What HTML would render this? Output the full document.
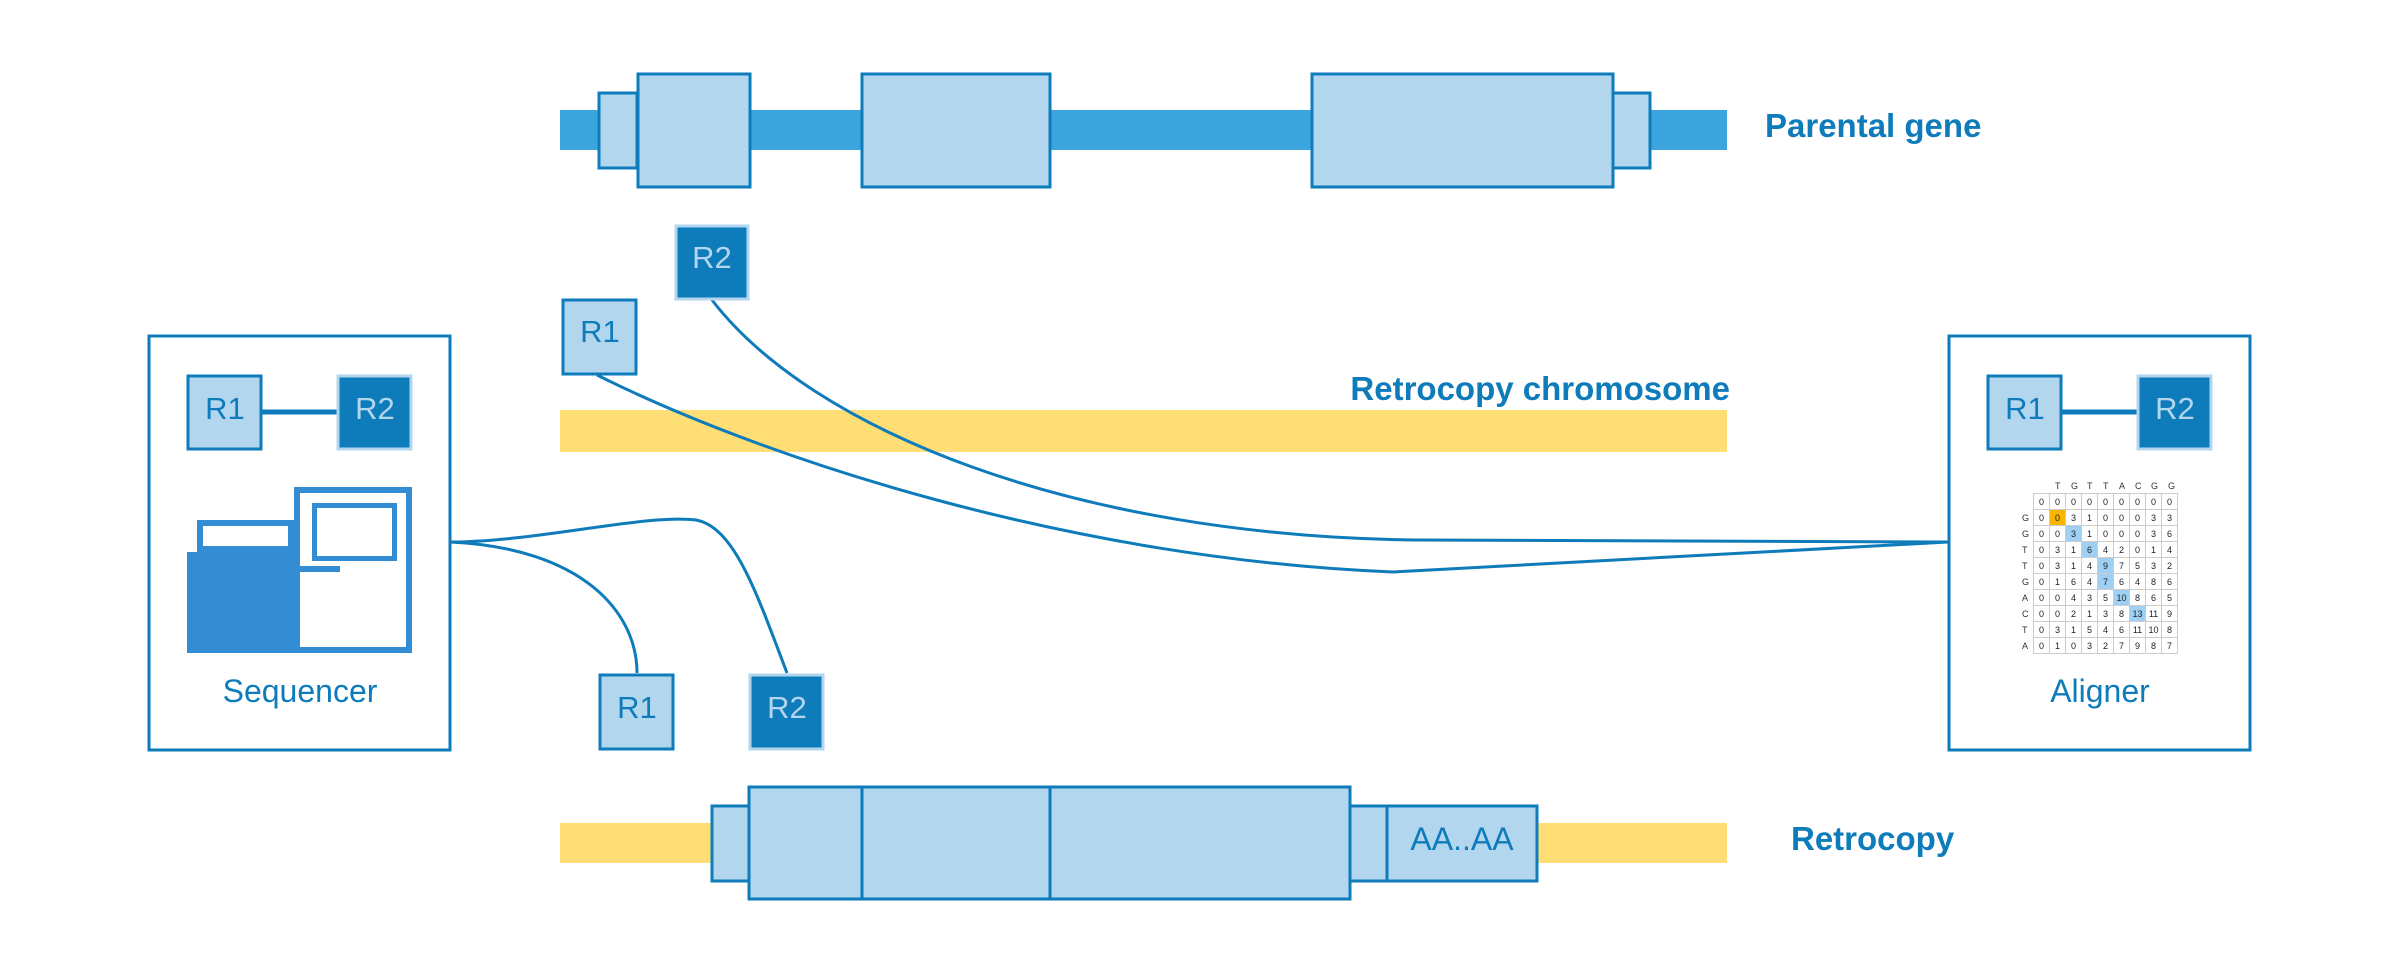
<!DOCTYPE html>
<html><head><meta charset="utf-8"><style>
html,body{margin:0;padding:0;background:#fff;}
body{width:2400px;height:975px;position:relative;overflow:hidden;font-family:"Liberation Sans",sans-serif;}
table.m{position:absolute;left:2033px;top:493px;border-collapse:collapse;font-size:9px;color:#222;table-layout:fixed;width:145px;height:161px;}
table.m td{border:1.5px solid #ccc;text-align:center;padding:0;line-height:14px;background:#fff;}
table.m td.o{background:#f7b500;}
table.m td.b{background:#9fd0f3;}
.rl{position:absolute;left:2022px;font-size:9px;color:#333;}
.hl{position:absolute;top:481px;font-size:9px;color:#333;}
</style></head><body>
<svg width="2400" height="975" style="position:absolute;left:0;top:0">
<g font-family="Liberation Sans, sans-serif">
<rect x="560" y="110" width="1167" height="40" fill="#3ca5dd"/>
<rect x="599" y="93" width="38" height="75" fill="#b3d6ef" stroke="#0e7bbb" stroke-width="3"/>
<rect x="638" y="74" width="112" height="113" fill="#b3d6ef" stroke="#0e7bbb" stroke-width="3"/>
<rect x="862" y="74" width="188" height="113" fill="#b3d6ef" stroke="#0e7bbb" stroke-width="3"/>
<rect x="1312" y="74" width="301" height="113" fill="#b3d6ef" stroke="#0e7bbb" stroke-width="3"/>
<rect x="1613" y="93" width="37" height="75" fill="#b3d6ef" stroke="#0e7bbb" stroke-width="3"/>
<text x="1765" y="137" font-size="33" font-weight="bold" fill="#0e7bbb">Parental gene</text>

<rect x="560" y="410" width="1167" height="42" fill="#ffde75"/>
<text x="1730" y="400" font-size="33" font-weight="bold" fill="#0e7bbb" text-anchor="end">Retrocopy chromosome</text>

<rect x="560" y="823" width="1167" height="40" fill="#ffde75"/>
<rect x="712" y="806" width="37" height="75" fill="#b3d6ef" stroke="#0e7bbb" stroke-width="3"/>
<rect x="749" y="787" width="601" height="112" fill="#b3d6ef" stroke="#0e7bbb" stroke-width="3"/>
<line x1="862" y1="787" x2="862" y2="899" stroke="#0e7bbb" stroke-width="3"/>
<line x1="1050" y1="787" x2="1050" y2="899" stroke="#0e7bbb" stroke-width="3"/>
<rect x="1350" y="806" width="37" height="75" fill="#b3d6ef" stroke="#0e7bbb" stroke-width="3"/>
<rect x="1387" y="806" width="150" height="75" fill="#b3d6ef" stroke="#0e7bbb" stroke-width="3"/>
<text x="1462" y="850" font-size="32" fill="#0e7bbb" text-anchor="middle">AA..AA</text>
<text x="1791" y="850" font-size="33" font-weight="bold" fill="#0e7bbb">Retrocopy</text>

<g fill="none" stroke="#0e7bbb" stroke-width="3">
<path d="M450,542 C582,548 637,612 637,673"/>
<path d="M450,542 C536,542 643,514 696,520 C735,527 758,597 787,673"/>
<path d="M1948,542 L1393,572 C1071,559 765,459 597,375"/>
<path d="M1948,542 L1416,540 C1071,536 811,429 712,300"/>
</g>

<rect x="676" y="226" width="72" height="73" fill="#0e7bbb" stroke="#b3d6ef" stroke-width="3"/>
<text x="712" y="268" font-size="31" fill="#b3d6ef" text-anchor="middle">R2</text>
<rect x="563" y="300" width="73" height="74" fill="#b3d6ef" stroke="#0e7bbb" stroke-width="3"/>
<text x="600" y="342" font-size="31" fill="#0e7bbb" text-anchor="middle">R1</text>
<rect x="600" y="675" width="73" height="74" fill="#b3d6ef" stroke="#0e7bbb" stroke-width="3"/>
<text x="637" y="718" font-size="31" fill="#0e7bbb" text-anchor="middle">R1</text>
<rect x="750" y="675" width="73" height="74" fill="#0e7bbb" stroke="#b3d6ef" stroke-width="3"/>
<text x="787" y="718" font-size="31" fill="#b3d6ef" text-anchor="middle">R2</text>

<rect x="149" y="336" width="301" height="414" fill="none" stroke="#0e7bbb" stroke-width="3"/>
<line x1="262" y1="412" x2="337" y2="412" stroke="#0e7bbb" stroke-width="5"/>
<rect x="188" y="376" width="73" height="73" fill="#b3d6ef" stroke="#0e7bbb" stroke-width="3"/>
<text x="225" y="419" font-size="31" fill="#0e7bbb" text-anchor="middle">R1</text>
<rect x="338" y="376" width="73" height="73" fill="#0e7bbb" stroke="#b3d6ef" stroke-width="3"/>
<text x="375" y="419" font-size="31" fill="#b3d6ef" text-anchor="middle">R2</text>
<rect x="297" y="490" width="112" height="160" fill="#fff" stroke="#348dd2" stroke-width="6"/>
<rect x="314.5" y="505.5" width="80" height="53" fill="#fff" stroke="#348dd2" stroke-width="5"/>
<rect x="200" y="523" width="91" height="26" fill="#fff" stroke="#348dd2" stroke-width="6"/>
<rect x="187" y="552" width="113" height="101" fill="#348dd2"/>
<rect x="300" y="566" width="40" height="6" fill="#348dd2"/>
<text x="300" y="702" font-size="32" fill="#0e7bbb" text-anchor="middle">Sequencer</text>

<rect x="1949" y="336" width="301" height="414" fill="none" stroke="#0e7bbb" stroke-width="3"/>
<line x1="2062" y1="412" x2="2137" y2="412" stroke="#0e7bbb" stroke-width="5"/>
<rect x="1988" y="376" width="73" height="73" fill="#b3d6ef" stroke="#0e7bbb" stroke-width="3"/>
<text x="2025" y="419" font-size="31" fill="#0e7bbb" text-anchor="middle">R1</text>
<rect x="2138" y="376" width="73" height="73" fill="#0e7bbb" stroke="#b3d6ef" stroke-width="3"/>
<text x="2175" y="419" font-size="31" fill="#b3d6ef" text-anchor="middle">R2</text>
<text x="2100" y="702" font-size="32" fill="#0e7bbb" text-anchor="middle">Aligner</text>
</g>
</svg>
<span class="hl" style="left:2055px">T</span><span class="hl" style="left:2071px">G</span><span class="hl" style="left:2087px">T</span><span class="hl" style="left:2103px">T</span><span class="hl" style="left:2119px">A</span><span class="hl" style="left:2135px">C</span><span class="hl" style="left:2151px">G</span><span class="hl" style="left:2168px">G</span>
<span class="rl" style="top:513px">G</span><span class="rl" style="top:529px">G</span><span class="rl" style="top:545px">T</span><span class="rl" style="top:561px">T</span><span class="rl" style="top:577px">G</span><span class="rl" style="top:593px">A</span><span class="rl" style="top:609px">C</span><span class="rl" style="top:625px">T</span><span class="rl" style="top:641px">A</span>
<table class="m">
<tr><td>0</td><td>0</td><td>0</td><td>0</td><td>0</td><td>0</td><td>0</td><td>0</td><td>0</td></tr>
<tr><td>0</td><td class="o">0</td><td>3</td><td>1</td><td>0</td><td>0</td><td>0</td><td>3</td><td>3</td></tr>
<tr><td>0</td><td>0</td><td class="b">3</td><td>1</td><td>0</td><td>0</td><td>0</td><td>3</td><td>6</td></tr>
<tr><td>0</td><td>3</td><td>1</td><td class="b">6</td><td>4</td><td>2</td><td>0</td><td>1</td><td>4</td></tr>
<tr><td>0</td><td>3</td><td>1</td><td>4</td><td class="b">9</td><td>7</td><td>5</td><td>3</td><td>2</td></tr>
<tr><td>0</td><td>1</td><td>6</td><td>4</td><td class="b">7</td><td>6</td><td>4</td><td>8</td><td>6</td></tr>
<tr><td>0</td><td>0</td><td>4</td><td>3</td><td>5</td><td class="b">10</td><td>8</td><td>6</td><td>5</td></tr>
<tr><td>0</td><td>0</td><td>2</td><td>1</td><td>3</td><td>8</td><td class="b">13</td><td>11</td><td>9</td></tr>
<tr><td>0</td><td>3</td><td>1</td><td>5</td><td>4</td><td>6</td><td>11</td><td>10</td><td>8</td></tr>
<tr><td>0</td><td>1</td><td>0</td><td>3</td><td>2</td><td>7</td><td>9</td><td>8</td><td>7</td></tr>
</table>
</body></html>
